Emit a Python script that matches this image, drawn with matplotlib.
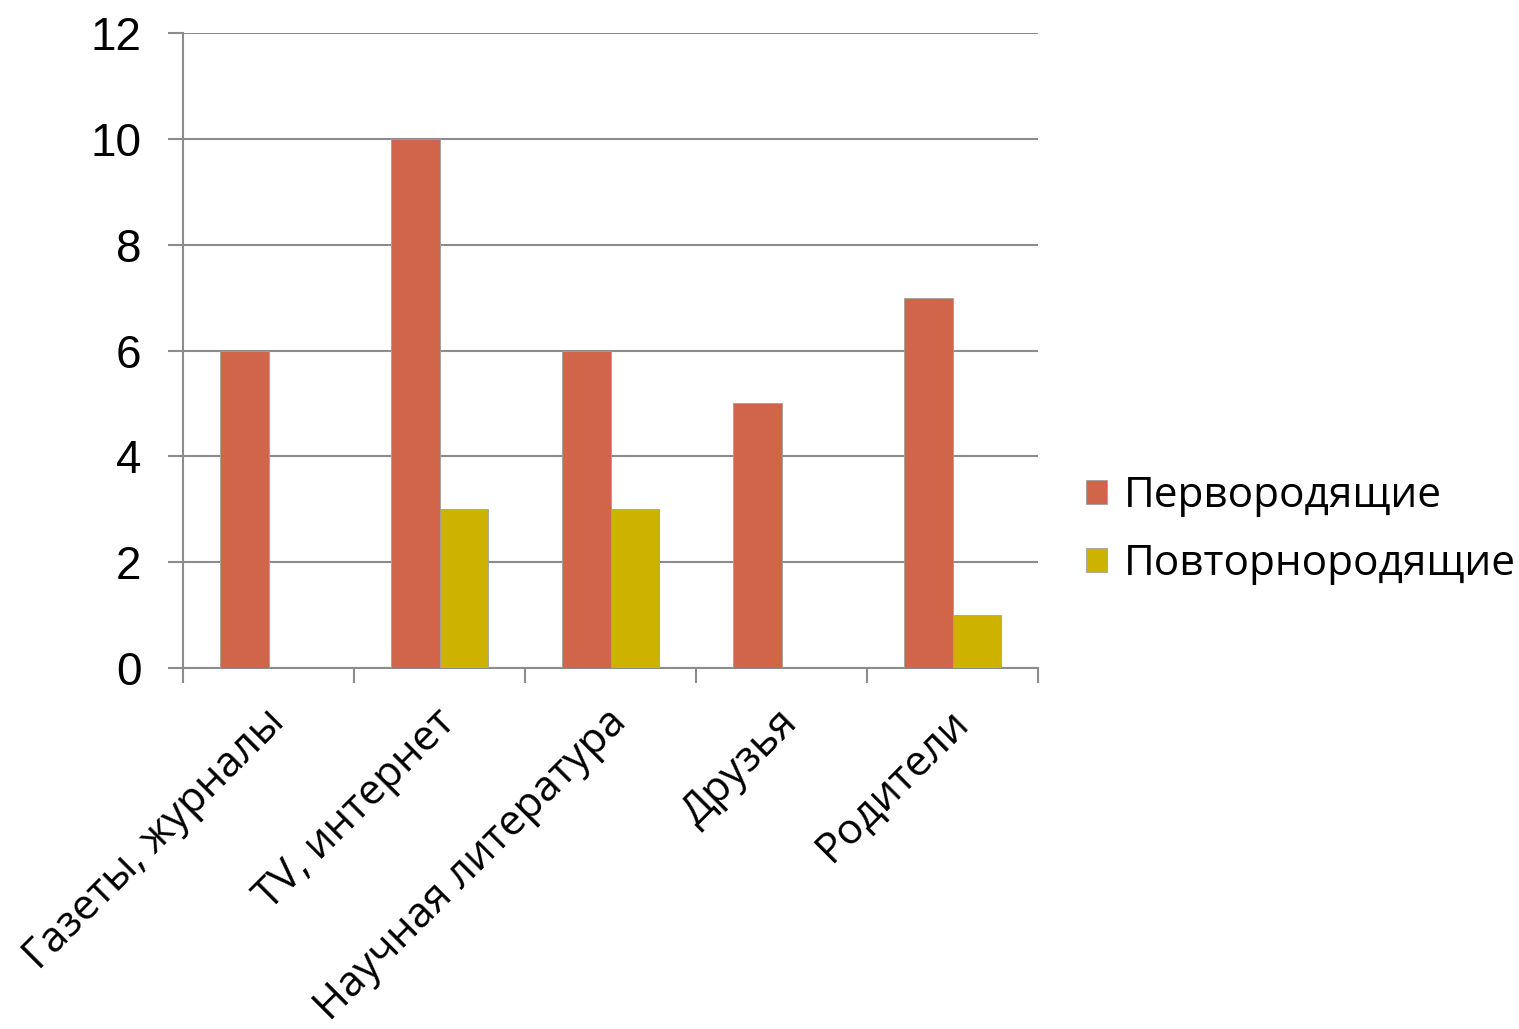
import matplotlib
matplotlib.use("Agg")
import matplotlib.pyplot as plt
import matplotlib.transforms as mtransforms
import numpy as np
from matplotlib.patches import Patch

categories = ["Газеты, журналы", "TV, интернет", "Научная литература", "Друзья", "Родители"]
series_names = ["Первородящие", "Повторнородящие"]
first = [6, 10, 6, 5, 7]
repeat = [0, 3, 3, 0, 1]
yticks = [0, 2, 4, 6, 8, 10, 12]

c1 = "#D0654A"
c2 = "#CDB200"
grid_c = "#8C8C8C"

fig = plt.figure(figsize=(15.19, 10.29), dpi=100)
ax = fig.add_axes([183/1519, 1-668/1029, (1038-183)/1519, (668-33)/1029])

x = np.arange(len(categories))
w = 0.284
ax.bar(x - w/2, first, w, color=c1, edgecolor="#A0A0A0", linewidth=0.6, zorder=3)
ax.bar(x + w/2, repeat, w, color=c2, edgecolor="#A0A0A0", linewidth=0.6, zorder=3)

ax.set_xlim(-0.5, len(categories) - 0.5)
ax.set_ylim(0, 12)
ax.set_yticks(yticks)
ax.set_yticklabels([str(v) for v in yticks], fontsize=33, family="Liberation Sans")
ax.yaxis.grid(True, color=grid_c, linewidth=1.5, zorder=0)
ax.tick_params(axis="y", length=11, width=1.5, color=grid_c, pad=19)

ax.set_xticks(x)
ax.set_xticklabels(categories, rotation=45, ha="right", va="top", rotation_mode="anchor",
                   fontsize=30.5, family="Open Sans")
ax.tick_params(axis="x", which="major", length=0, pad=24)
offset = mtransforms.ScaledTranslation(-5/100, 0, fig.dpi_scale_trans)
for lab in ax.get_xticklabels():
    lab.set_transform(lab.get_transform() + offset)
ax.set_xticks(np.arange(-0.5, len(categories)), minor=True)
ax.tick_params(axis="x", which="minor", length=11, width=1.5, color=grid_c)

for s in ["top", "right"]:
    ax.spines[s].set_visible(False)
for s in ["left", "bottom"]:
    ax.spines[s].set_color(grid_c)
    ax.spines[s].set_linewidth(1.5)
ax.set_axisbelow(True)

handles = [Patch(facecolor=c1, edgecolor="#A0A0A0", linewidth=0.6),
           Patch(facecolor=c2, edgecolor="#A0A0A0", linewidth=0.6)]
fig.legend(handles, series_names, loc="center left", bbox_to_anchor=(1048/1519, 1-530/1029),
           frameon=False, prop={"family": "Open Sans", "size": 30.5},
           handlelength=0.5, handleheight=0.5, handletextpad=0.4, labelspacing=0.62)

fig.savefig("out.png", dpi=100)
